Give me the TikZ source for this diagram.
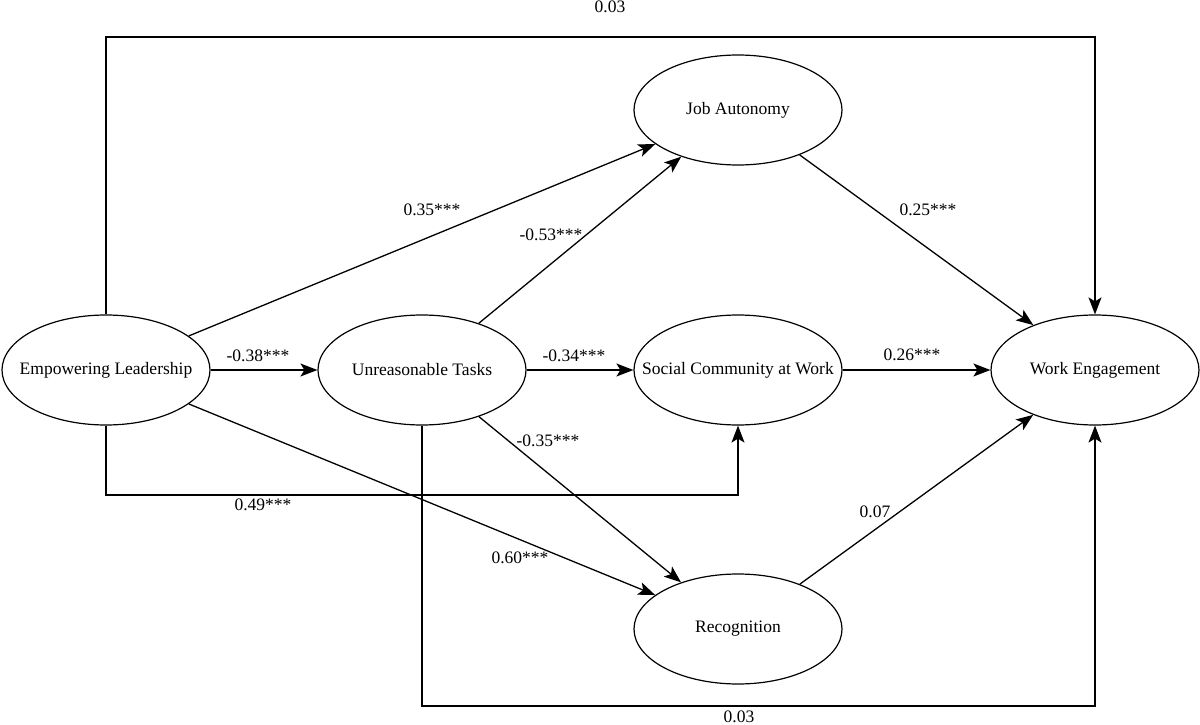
\documentclass[tikz,border=0pt]{standalone}
\usepackage{fontspec}
\setmainfont{Liberation Serif}
\usepackage{tikz}
\usetikzlibrary{shapes.geometric,arrows.meta}
\newcommand{\latname}[1]{\makebox[0pt]{#1}}

\begin{document}
\begin{tikzpicture}[x=1pt,y=-1pt,
  latent/.style={ellipse,draw,line width=1.2pt,minimum width=208pt,minimum height=110pt,inner sep=0pt,font=\fontsize{17.5pt}{21pt}\selectfont},
  coef/.style={inner sep=0pt,font=\fontsize{17.5pt}{21pt}\selectfont},
  path/.style={line width=1.3pt,-{Stealth[length=17pt,width=13pt,inset=4pt]}},
  plain/.style={line width=1.3pt}]
  \useasboundingbox (0,0) rectangle (1200,725);
  \node[latent] (EL) at (106,370) {\latname{Empowering Leadership}};
  \node[latent] (UT) at (422,370) {\latname{Unreasonable Tasks}};
  \node[latent] (JA) at (738,110) {\latname{Job Autonomy}};
  \node[latent] (SC) at (738,370) {\latname{Social Community at Work}};
  \node[latent] (RE) at (738,629) {\latname{Recognition}};
  \node[latent] (WE) at (1095,370) {\latname{Work Engagement}};
  \coordinate (topbend) at (106,37);
  \coordinate (elbend) at (106,495);
  \coordinate (utbend) at (422,706);
  \draw[path] (EL) -- (JA);
  \draw[path] (UT) -- (JA);
  \draw[path] (JA) -- (WE);
  \draw[path] (EL) -- (UT);
  \draw[path] (UT) -- (SC);
  \draw[path] (SC) -- (WE);
  \draw[path] (UT) -- (RE);
  \draw[path] (EL) -- (RE);
  \draw[path] (RE) -- (WE);
  \draw[path] (EL.north) -- (topbend) -| (WE.north);
  \draw[path] (EL.south) -- (elbend) -| (SC.south);
  \draw[path] (UT.south) -- (utbend) -| (WE.south);
  \node[coef] (cTop) at (610,7) {0.03};
  \node[coef] (cElJa) at (432,210) {0.35***};
  \node[coef] (cUtJa) at (551,235) {-0.53***};
  \node[coef] (cJaWe) at (928,210) {0.25***};
  \node[coef] (cElUt) at (258,356) {-0.38***};
  \node[coef] (cUtSc) at (574,356) {-0.34***};
  \node[coef] (cScWe) at (912,355) {0.26***};
  \node[coef] (cUtRe) at (548,441) {-0.35***};
  \node[coef] (cElSc) at (263,505) {0.49***};
  \node[coef] (cElRe) at (520,558) {0.60***};
  \node[coef] (cReWe) at (875,512) {0.07};
  \node[coef] (cBot) at (739,717) {0.03};
\end{tikzpicture}
\end{document}
